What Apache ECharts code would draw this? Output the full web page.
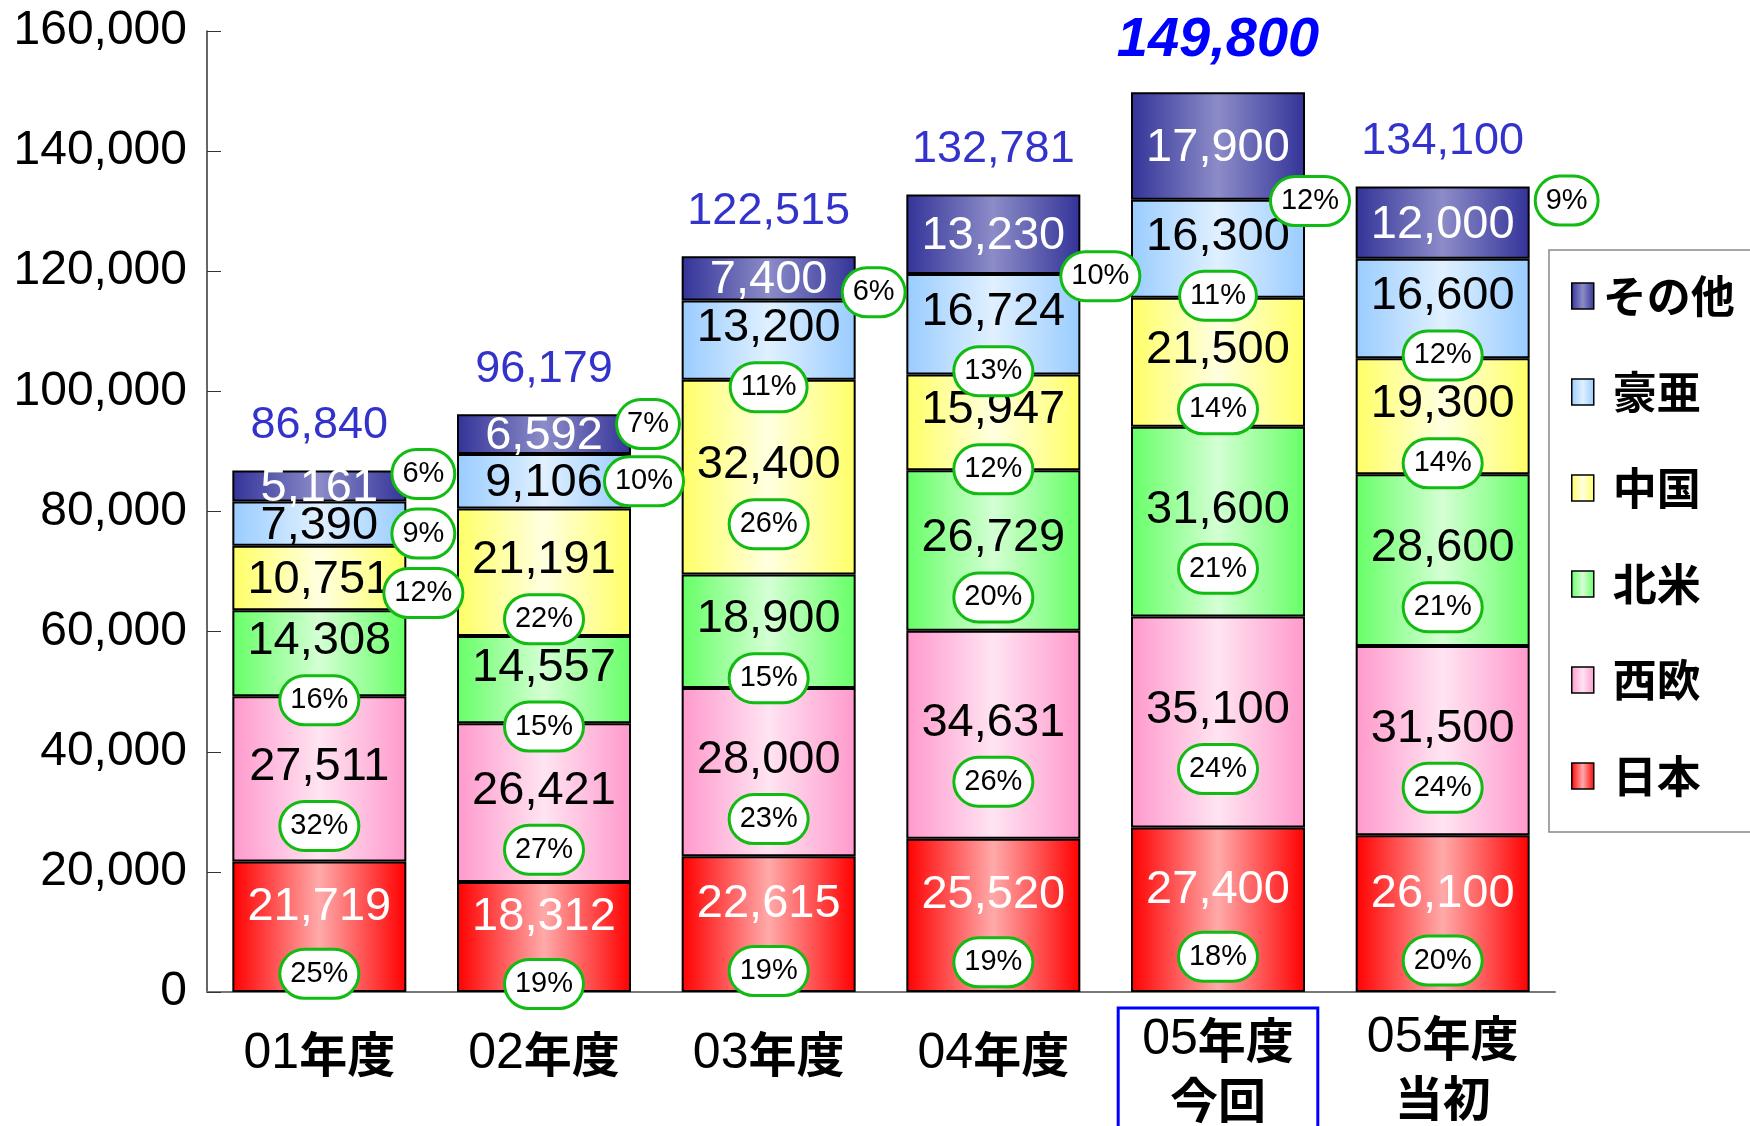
<!DOCTYPE html>
<html>
<head>
<meta charset="utf-8">
<script src="https://cdn.jsdelivr.net/npm/echarts@6/dist/echarts.min.js"></script>
<style>
  html, body { margin: 0; padding: 0; background: #fff; }
  #main { width: 1750px; height: 1126px; }
</style>
</head>
<body>
<div id="main"></div>
<script>
// 年度別 地域別 数量（台）
var categories = ['01年度', '02年度', '03年度', '04年度', '05年度\n今回', '05年度\n当初'];
var seriesNames = ['日本', '西欧', '北米', '中国', '豪亜', 'その他'];

var japan  = [21719, 18312, 22615, 25520, 27400, 26100];
var europe = [27511, 26421, 28000, 34631, 35100, 31500];
var namer  = [14308, 14557, 18900, 26729, 31600, 28600];
var china  = [10751, 21191, 32400, 15947, 21500, 19300];
var ausAsia = [7390, 9106, 13200, 16724, 16300, 16600];
var others = [5161, 6592, 7400, 13230, 17900, 12000];
var totals = [86840, 96179, 122515, 132781, 149800, 134100];

// 構成比（%）
var japanPct  = [25, 19, 19, 19, 18, 20];
var europePct = [32, 27, 23, 26, 24, 24];
var namerPct  = [16, 15, 15, 20, 21, 21];
var chinaPct  = [12, 22, 26, 12, 14, 14];
var ausAsiaPct = [9, 10, 11, 13, 11, 12];
var othersPct = [6, 7, 6, 10, 12, 9];

var yTicks = [0, 20000, 40000, 60000, 80000, 100000, 120000, 140000, 160000];

var values = [japan, europe, namer, china, ausAsia, others];
var pcts = [japanPct, europePct, namerPct, chinaPct, ausAsiaPct, othersPct];

// 棒の外側に置く％ラベルのずらし量（px）
var outside = {
  3: {0: [104, 15]},
  4: {0: [104, 10], 1: [100, 0]},
  5: {0: [104, -12], 1: [104, -10], 2: [105, 14], 3: [107, 42], 4: [92, 55], 5: [124, -22]}
};

var colors = [
  ['#ff0000', '#ffaaaa'],
  ['#ff99cc', '#ffe4f2'],
  ['#66ff66', '#d4ffd4'],
  ['#ffff66', '#ffffe0'],
  ['#99ccff', '#e0f0ff'],
  ['#333399', '#8c8cc8']
];

function grad(c) {
  return new echarts.graphic.LinearGradient(0, 0, 1, 0, [
    {offset: 0, color: c[0]},
    {offset: 0.5, color: c[1]},
    {offset: 1, color: c[0]}
  ]);
}

function fmt(v) { return v.toLocaleString('en-US'); }

var FONT = '"Liberation Sans", Arial, "Noto Sans CJK JP", sans-serif';

var series = [];
var pctData = [];

seriesNames.forEach(function (name, s) {
  var white = (s === 0 || s === 5);
  series.push({
    name: name,
    type: 'bar',
    stack: 'total',
    barWidth: 174,
    itemStyle: { color: grad(colors[s]), borderColor: '#000', borderWidth: 2 },
    label: {
      show: true,
      position: 'inside',
      fontFamily: FONT,
      fontSize: 47,
      color: white ? '#fff' : '#000',
      textShadowColor: white ? '#888' : 'transparent',
      textShadowOffsetX: white ? 3 : 0,
      textShadowOffsetY: white ? 3 : 0,
      textShadowBlur: 0,
      formatter: function (p) { return fmt(p.value); }
    },
    data: values[s].map(function (v, i) {
      var out = outside[s] && outside[s][i];
      return { value: v, label: { offset: out ? [0, 2] : [0, s === 0 ? -20 : -12] } };
    }),
    z: 2
  });
});

// ％ラベル（各区間の中央から）
var bottoms = categories.map(function () { return 0; });
values.forEach(function (arr, s) {
  arr.forEach(function (v, i) {
    var out = outside[s] && outside[s][i];
    pctData.push({
      value: [i, bottoms[i] + v / 2],
      pct: pcts[s][i],
      label: { offset: out ? out : [0, 47] }
    });
    bottoms[i] += v;
  });
});

series.push({
  name: 'pct',
  type: 'scatter',
  symbolSize: 0,
  z: 10,
  silent: true,
  itemStyle: { opacity: 1 },
  label: {
    show: true,
    position: 'inside',
    fontFamily: FONT,
    fontSize: 29,
    color: '#000',
    backgroundColor: '#fff',
    borderColor: '#11bb11',
    borderWidth: 3,
    borderRadius: 30,
    padding: [9, 9, 8, 9],
    formatter: function (p) { return p.data.pct + '%'; }
  },
  data: pctData
});

series.push({
  name: 'total',
  type: 'scatter',
  symbolSize: 0,
  z: 10,
  silent: true,
  itemStyle: { opacity: 1 },
  label: {
    show: true,
    position: 'top',
    distance: 22,
    fontFamily: FONT,
    fontSize: 45,
    color: '#3333cc',
    formatter: function (p) { return fmt(p.value[1]); }
  },
  data: totals.map(function (t, i) {
    var d = { value: [i, t] };
    if (i === 4) {
      d.label = {
        fontSize: 56, fontWeight: 'bold', fontStyle: 'italic', color: '#0000ff',
        textShadowColor: '#99bbff', textShadowOffsetX: 3, textShadowOffsetY: 3, distance: 24
      };
    }
    return d;
  })
});

var chart = echarts.init(document.getElementById('main'));
chart.setOption({
  backgroundColor: '#fff',
  animation: false,
  grid: { left: 207, top: 31, right: 195, bottom: 134, containLabel: false, outerBoundsMode: 'none' },
  legend: {
    data: seriesNames.slice().reverse(),
    orient: 'vertical',
    left: 1549,
    top: 250,
    width: 220,
    padding: [24, 40, 34, 22],
    itemWidth: 22,
    itemHeight: 26,
    itemGap: 52,
    icon: 'rect',
    borderColor: '#888',
    borderWidth: 1.5,
    backgroundColor: '#fff',
    selectedMode: false,
    itemStyle: { borderColor: '#000', borderWidth: 1.5 },
    textStyle: { fontFamily: '"Noto Sans CJK JP", sans-serif', fontSize: 44, fontWeight: 'bold', color: '#000', padding: [0, 0, 0, 4] },
    formatter: function (n) { return n === 'その他' ? n : ' ' + n; }
  },
  xAxis: {
    type: 'category',
    data: categories.map(function (c, i) {
      if (i === 4) {
        return { value: c, textStyle: { borderColor: '#0000ff', borderWidth: 3, padding: [2, 24, 40, 24] } };
      }
      if (c.indexOf('\n') < 0) {
        return { value: c, textStyle: { padding: [16, 0, 0, 0] } };
      }
      return c;
    }),
    axisLine: { lineStyle: { color: '#777', width: 2 } },
    axisTick: { inside: true, length: 10, lineStyle: { color: '#555' } },
    axisLabel: {
      interval: 0,
      margin: 16,
      fontFamily: FONT,
      fontSize: 50,
      color: '#000',
      lineHeight: 60,
      formatter: function (v) {
        return v.split('\n').map(function (line) {
          return line.replace(/^(\d+)?(.*)$/, function (m, d, k) {
            return (d ? '{d|' + d + '}' : '') + '{k|' + k + '}';
          });
        }).join('\n');
      },
      rich: {
        d: { fontFamily: FONT, fontSize: 50, color: '#000', lineHeight: 60 },
        k: { fontFamily: '"Noto Sans CJK JP", sans-serif', fontSize: 48, fontWeight: 'bold', color: '#000', lineHeight: 60 }
      }
    }
  },
  yAxis: {
    type: 'value',
    min: yTicks[0],
    max: yTicks[yTicks.length - 1],
    interval: yTicks[1] - yTicks[0],
    splitLine: { show: false },
    axisLine: { show: true, lineStyle: { color: '#333', width: 1.5 } },
    axisTick: { show: true, inside: true, length: 14, lineStyle: { color: '#333' } },
    axisLabel: {
      margin: 20,
      fontFamily: FONT,
      fontSize: 48,
      color: '#000',
      formatter: function (v) { return fmt(v); }
    }
  },
  series: series
});
</script>
</body>
</html>
